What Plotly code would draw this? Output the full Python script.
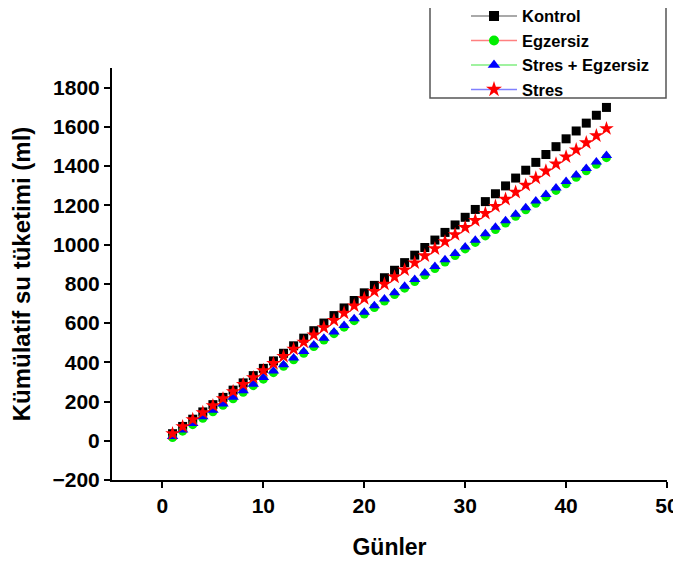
import plotly.graph_objects as go

days = list(range(1, 45))

kontrol = [36, 73, 110, 147, 184, 221, 258, 295, 332, 369,
           407, 446, 484, 523, 561, 600, 638, 677, 715, 754,
           792, 831, 869, 908, 946, 985, 1023, 1062, 1100, 1139,
           1179, 1219, 1259, 1299, 1339, 1379, 1419, 1459, 1499, 1539,
           1579, 1619, 1659, 1699]
egzersiz = [16, 49, 82, 115, 148, 181, 214, 247, 281, 314,
            347, 380, 413, 446, 480, 513, 546, 579, 612, 646,
            679, 712, 745, 778, 812, 845, 878, 911, 944, 978,
            1011, 1044, 1077, 1110, 1144, 1177, 1210, 1243, 1276, 1310,
            1343, 1376, 1409, 1443]
stres_egzersiz = [22, 55, 88, 122, 155, 188, 222, 255, 288, 322,
                  355, 388, 422, 455, 488, 522, 555, 588, 622, 655,
                  688, 722, 755, 788, 822, 855, 888, 922, 955, 988,
                  1022, 1055, 1088, 1122, 1155, 1188, 1222, 1255, 1288, 1322,
                  1355, 1388, 1421, 1454]
stres = [36, 72, 108, 144, 179, 215, 251, 287, 322, 358,
         394, 430, 467, 503, 540, 577, 614, 651, 688, 725,
         762, 799, 835, 871, 907, 943, 979, 1015, 1051, 1087,
         1123, 1159, 1195, 1231, 1267, 1303, 1339, 1375, 1411, 1447,
         1483, 1519, 1555, 1591]

x_ticks = [0, 10, 20, 30, 40, 50]
y_ticks = [-200, 0, 200, 400, 600, 800, 1000, 1200, 1400, 1600, 1800]

series = [
    ("Kontrol", kontrol, "square", "black", "#8c8c8c", 9),
    ("Egzersiz", egzersiz, "circle", "#00ee00", "#ff8080", 9),
    ("Stres + Egzersiz", stres_egzersiz, "triangle-up", "blue", "#80ee80", 10),
    ("Stres", stres, "star", "red", "#8080ff", 11),
]

FONT = "Liberation Sans, Arial, sans-serif"
fig = go.Figure()
for name, vals, sym, mcol, lcol, size in series:
    fig.add_trace(go.Scatter(
        x=days, y=vals, mode="markers", name=name, showlegend=False,
        marker=dict(symbol=sym, color=mcol, size=size, line=dict(width=0)),
    ))
for name, vals, sym, mcol, lcol, size in series:
    fig.add_trace(go.Scatter(
        x=[None], y=[None], mode="lines+markers", name=name,
        line=dict(color=lcol, width=1.5),
        marker=dict(symbol=sym, color=mcol, size=size + 1, line=dict(width=0)),
    ))

# page has an 8px body margin: figure drawn at (8, 8)
fig.update_layout(
    width=673, height=555,
    paper_bgcolor="white", plot_bgcolor="white",
    margin=dict(l=104, r=14, t=60, b=83, autoexpand=False),
    font=dict(family=FONT, color="black"),
    xaxis=dict(
        range=[-5, 50], tickvals=x_ticks, showgrid=False, zeroline=False,
        showline=True, linecolor="black", linewidth=2,
        ticks="outside", ticklen=6, tickwidth=2, tickcolor="black",
        tickfont=dict(size=21, family=FONT, weight="bold"),
        title=dict(text="Günler", font=dict(size=23, family=FONT, weight="bold"), standoff=23),
    ),
    yaxis=dict(
        range=[-200, 1900], tickvals=y_ticks, showgrid=False, zeroline=False,
        showline=True, linecolor="black", linewidth=2,
        ticks="outside", ticklen=6, tickwidth=2, tickcolor="black",
        tickfont=dict(size=21, family=FONT, weight="bold"),
        title=dict(text="Kümülatif su tüketimi (ml)", font=dict(size=24, family=FONT, weight="bold"), standoff=15),
    ),
    legend=dict(
        x=(466 - 112) / 555, xanchor="left", y=1 + 69.2 / 412, yanchor="top",
        bgcolor="rgba(0,0,0,0)", borderwidth=0, itemwidth=46,
        font=dict(size=16.5, family=FONT, weight="bold", color="black"),
        tracegroupgap=0,
    ),
    shapes=[dict(
        type="rect", xref="paper", yref="paper",
        x0=(430 - 112) / 555, x1=(666 - 112) / 555,
        y0=(480 - 98) / 412, y1=(480 + 10) / 412,
        line=dict(color="#555555", width=1.5), fillcolor="rgba(0,0,0,0)",
    )],
)

fig.write_html("out.html")
